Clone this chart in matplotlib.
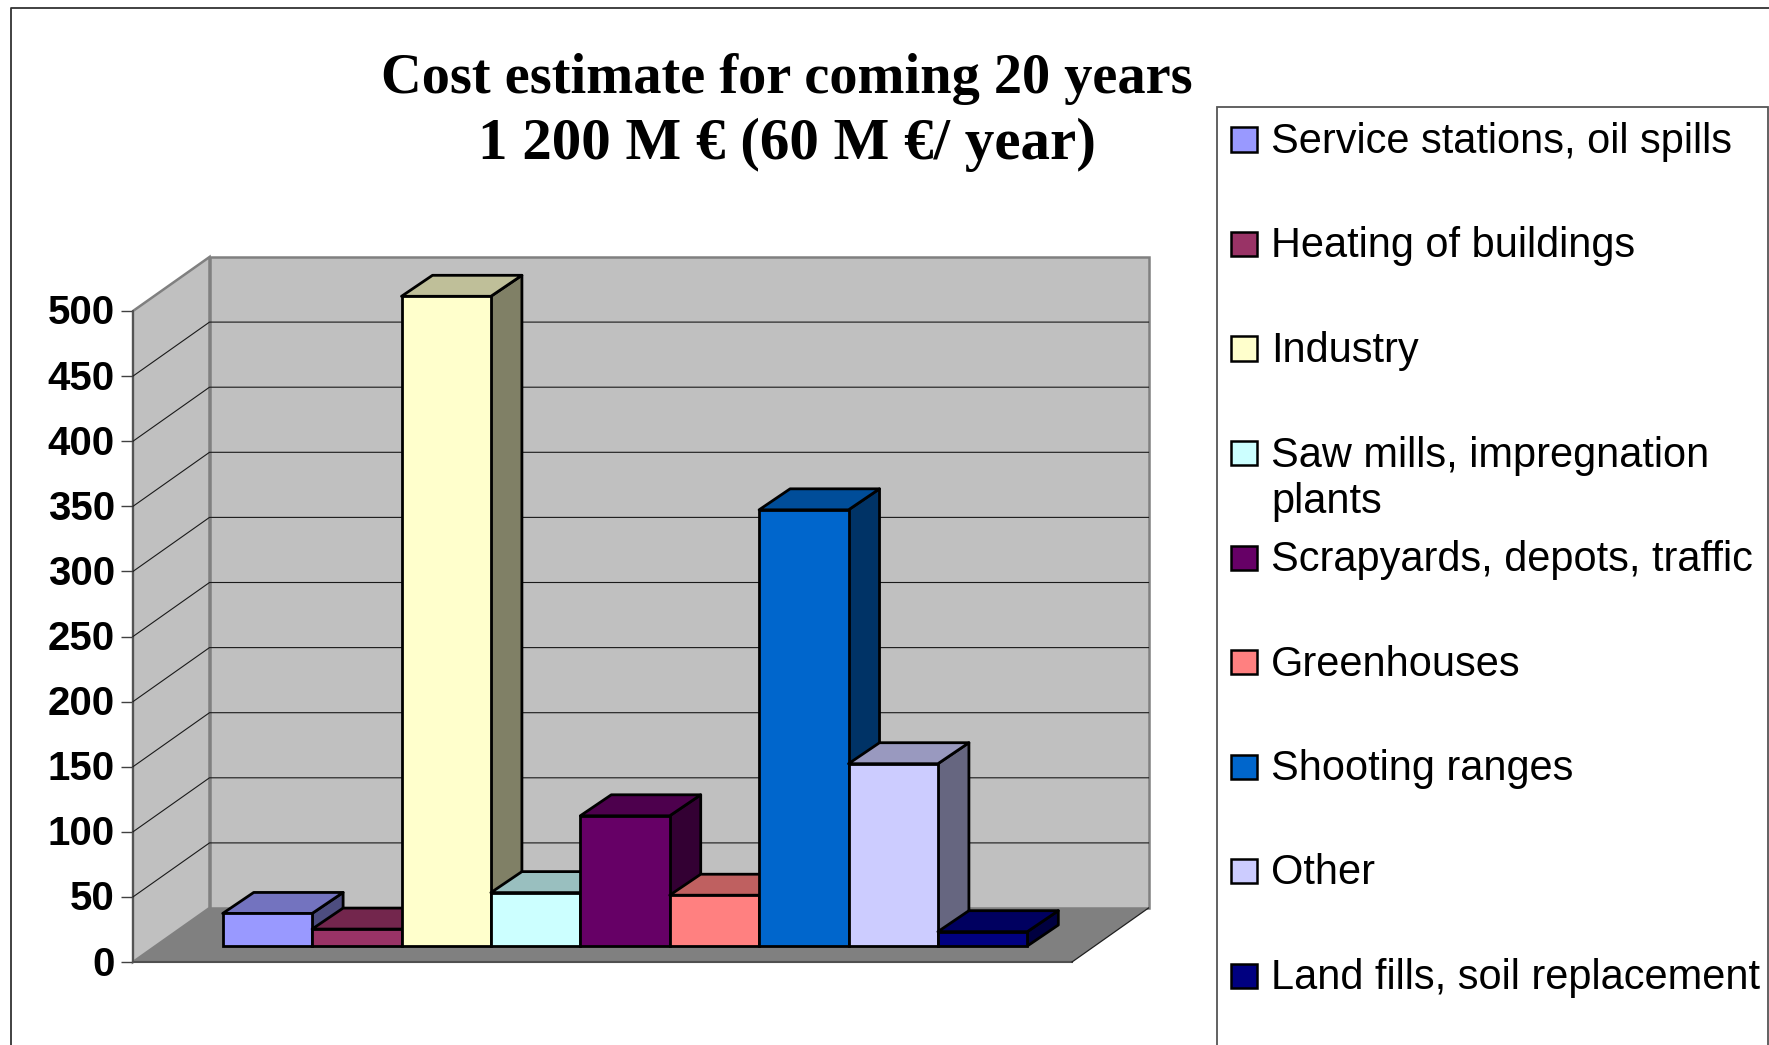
import matplotlib
matplotlib.use('Agg')
import matplotlib.pyplot as plt
from matplotlib.lines import Line2D
from matplotlib.patches import Polygon, Rectangle
from matplotlib.transforms import ScaledTranslation

labels = ['Service stations, oil spills', 'Heating of buildings', 'Industry',
          'Saw mills, impregnation\nplants', 'Scrapyards, depots, traffic',
          'Greenhouses', 'Shooting ranges', 'Other', 'Land fills, soil replacement']
values = [25, 13, 499, 41, 100, 39, 335, 140, 11]
colors = ['#9999FF', '#993366', '#FFFFCC', '#CCFFFF', '#660066',
          '#FF8080', '#0066CC', '#CCCCFF', '#000080']
yticks = list(range(0, 501, 50))
title = 'Cost estimate for coming 20 years\n1 200 M € (60 M €/ year)'

W, H = 1769, 1045
PX_BAR = 89.4
PX_VAL = 651 / 500

# 3d look, everything in data units (x = bar widths, y = value)
wall_w = 939 / PX_BAR
wall_dx, wall_dy = 76.5 / PX_BAR, 54 / PX_VAL
bar_dx, bar_dy = 31 / PX_BAR, 21 / PX_VAL
plane_dx, plane_dy = 0.2535, 16 / PX_VAL
gap = 0.75


def fx(px):
    return px / W


def fy(px):
    return 1 - px / H


def shade(col, k):
    rgb = matplotlib.colors.to_rgb(col)
    return tuple(c * k for c in rgb)


fig = plt.figure(figsize=(W / 100, H / 100), dpi=100, facecolor='white')
ax = fig.add_axes([fx(133), fy(962), 939 / W, 651 / H])
ax.set_xlim(0, wall_w)
ax.set_ylim(0, 500)
ax.patch.set_visible(False)
for s in ax.spines.values():
    s.set_visible(False)
ax.set_xticks([])
ax.set_yticks(yticks)
ax.tick_params(axis='y', length=8.5, width=1.0, color='#404040', pad=4.5)
nudge = ScaledTranslation(0, 1.5 / 100, fig.dpi_scale_trans)
for t in ax.get_yticklabels():
    t.set_fontfamily('Liberation Sans')
    t.set_fontweight('bold')
    t.set_fontsize(29)
    t.set_transform(t.get_transform() + nudge)

# walls and floor
top = 500
ax.add_patch(Polygon([(wall_dx, wall_dy), (wall_dx + wall_w, wall_dy), (wall_dx + wall_w, top + wall_dy),
                      (wall_dx, top + wall_dy)], fc='#C0C0C0', ec='#808080', lw=1.8, clip_on=False, zorder=1))
ax.add_patch(Polygon([(0, 0), (wall_dx, wall_dy), (wall_dx, top + wall_dy), (0, top)],
                     fc='#C0C0C0', ec='#808080', lw=1.8, clip_on=False, zorder=1))
ax.add_patch(Polygon([(0, 0), (wall_w, 0), (wall_w + wall_dx, wall_dy), (wall_dx, wall_dy)],
                     fc='#808080', ec='none', clip_on=False, zorder=1.5))
ax.plot([0, wall_w], [0, 0], color='#505050', lw=1.5, clip_on=False, zorder=1.6)
ax.plot([wall_w, wall_w + wall_dx], [0, wall_dy], color='#202020', lw=0.9, clip_on=False, zorder=1.6)
ax.plot([0, 0], [0, top], color='#505050', lw=1.3, clip_on=False, zorder=1.6)

# gridlines run along side wall then back wall
for v in yticks[1:-1]:
    ax.plot([0, wall_dx, wall_dx + wall_w], [v, v + wall_dy, v + wall_dy],
            color='#1a1a1a', lw=0.8, clip_on=False, zorder=2)

# bars, left to right so later fronts hide earlier sides
x0 = plane_dx + gap
for i, (val, col) in enumerate(zip(values, colors)):
    xl, xr = x0 + i, x0 + i + 1
    yb, yt = plane_dy, plane_dy + val
    z = 3 + i
    ax.add_patch(Polygon([(xr, yb), (xr + bar_dx, yb + bar_dy), (xr + bar_dx, yt + bar_dy), (xr, yt)],
                         fc=shade(col, 0.5), ec='black', lw=2.0, joinstyle='round', clip_on=False, zorder=z))
    ax.add_patch(Polygon([(xl, yt), (xr, yt), (xr + bar_dx, yt + bar_dy), (xl + bar_dx, yt + bar_dy)],
                         fc=shade(col, 0.75), ec='black', lw=2.0, joinstyle='round', clip_on=False, zorder=z))
    ax.add_patch(Rectangle((xl, yb), 1, val, fc=col, ec='black', lw=2.0, clip_on=False, zorder=z + 0.5))

# outer frame and legend box run off the picture
fig.add_artist(Line2D([fx(10.5), fx(10.5), fx(W + 5)], [fy(H + 5), fy(8), fy(8)], color='#333333', lw=1.3))
fig.add_artist(Rectangle((fx(1216.5), fy(H + 5)), fx(1768) - fx(1216.5), fy(107) - fy(H + 5),
                         transform=fig.transFigure, fc='white', ec='#555555', lw=1.3))

row_y, row_h = 139.5, 104.5
for i, (lab, col) in enumerate(zip(labels, colors)):
    yc = row_y + row_h * i
    fig.add_artist(Rectangle((fx(1231), fy(yc + 12)), 26 / W, 24 / H, transform=fig.transFigure,
                             fc=col, ec='black', lw=1.8))
    for j, part in enumerate(lab.split('\n')):
        fig.text(fx(1271), fy(yc + 13.5 + 47 * j), part, fontsize=29.9, family='Liberation Sans',
                 ha='left', va='baseline', color='black')

for j, (line, size) in enumerate(zip(title.split('\n'), [40.6, 42.5])):
    fig.text(fx(786.5), fy(93 + 66 * j), line, fontsize=size, family='Liberation Serif', fontweight='bold',
             ha='center', va='baseline', color='black')

fig.savefig('out.png', dpi=100)
